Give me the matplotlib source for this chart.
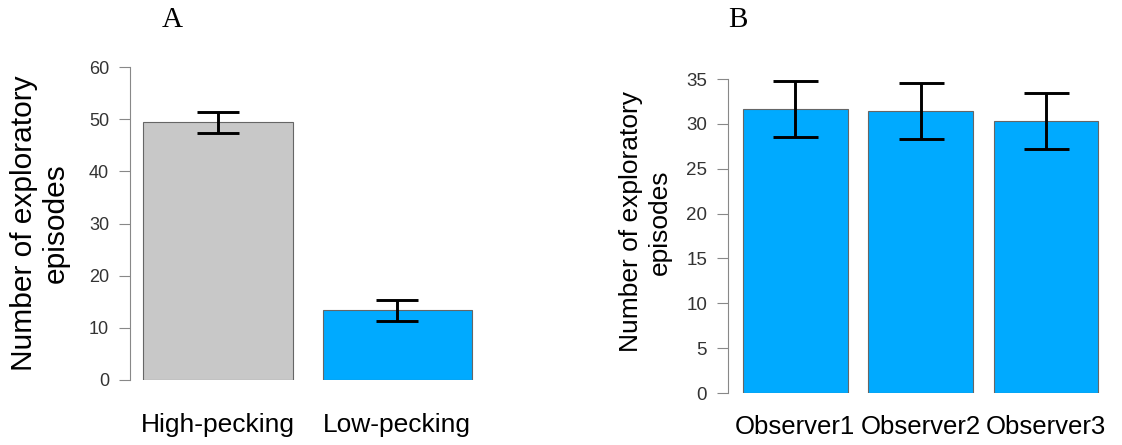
import matplotlib as mpl
import matplotlib.pyplot as plt
import numpy as np

mpl.rcParams['font.family'] = ['Liberation Sans', 'DejaVu Sans']

# panel A data
groups_a = ['High-pecking', 'Low-pecking']
means_a = [49.4, 13.4]
errs_a = [2.0, 2.0]
colors_a = ['#c8c8c8', '#00aaff']

# panel B data
groups_b = ['Observer1', 'Observer2', 'Observer3']
means_b = [31.65, 31.4, 30.3]
errs_b = [3.1, 3.1, 3.1]
colors_b = ['#00aaff', '#00aaff', '#00aaff']

ylabel = 'Number of exploratory\nepisodes'

W, H = 1122, 445
fig = plt.figure(figsize=(W / 100, H / 100), dpi=100)


def barpanel(ax, names, means, errs, colors, ymax, yticks, tick_fs, xlab_fs, cap_px, xpad):
    # R-style barplot: width 1, space 0.2
    x = 0.2 + np.arange(len(names)) * 1.2 + 0.5
    ax.bar(x, means, width=1.0, color=colors, edgecolor='#666666', linewidth=0.8, zorder=2)
    ax.errorbar(x, means, yerr=errs, fmt='none', ecolor='black', elinewidth=2.1,
                capsize=cap_px * 0.72, capthick=2.1, zorder=3)
    ax.set_ylim(0, ymax)
    ax.set_yticks(yticks)
    ax.set_xticks(x)
    ax.set_xticklabels(names, fontsize=xlab_fs)
    ax.tick_params(axis='x', length=0, pad=xpad)
    ax.tick_params(axis='y', length=8, width=0.8, color='#888888', labelsize=tick_fs,
                   labelcolor='#333333', pad=7)
    for s in ['top', 'right', 'bottom']:
        ax.spines[s].set_visible(False)
    ax.spines['left'].set_color('#888888')
    ax.spines['left'].set_linewidth(0.8)
    ax.spines['left'].set_bounds(0, ymax)
    ax.patch.set_alpha(0)


# panel A
ax1 = fig.add_axes([130 / W, (H - 380) / H, 372 / W, 313 / H])
ax1.set_xlim(0.113, 2.6)
barpanel(ax1, groups_a, means_a, errs_a, colors_a, 60, range(0, 61, 10), 13, 19, 21, 24)
ax1.set_ylabel(ylabel, fontsize=21.5, va='center', linespacing=1.2)
ax1.yaxis.set_label_coords(-0.242, 0.5)

# panel B
ax2 = fig.add_axes([728 / W, (H - 393) / H, 386 / W, 314 / H])
ax2.set_xlim(0.056, 3.75)
barpanel(ax2, groups_b, means_b, errs_b, colors_b, 35, range(0, 36, 5), 13.5, 18.5, 22.5, 16)
ax2.set_ylabel(ylabel, fontsize=19, va='center', linespacing=1.25)
ax2.yaxis.set_label_coords(-0.213, 0.545)

# panel letters
fig.text(172 / W, 1 - 20 / H, 'A', family=['Liberation Serif', 'DejaVu Serif'], fontsize=21,
         ha='center', va='center')
fig.text(738 / W, 1 - 20 / H, 'B', family=['Liberation Serif', 'DejaVu Serif'], fontsize=21,
         ha='center', va='center')

fig.savefig('out.png', dpi=100)
